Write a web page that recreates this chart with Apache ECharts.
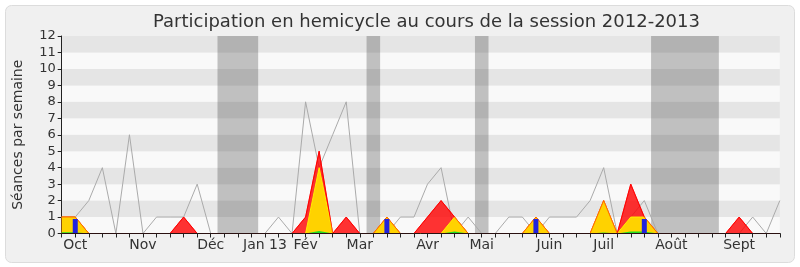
<!DOCTYPE html>
<html>
<head>
<meta charset="utf-8">
<script src="https://cdn.jsdelivr.net/npm/echarts@6/dist/echarts.min.js"></script>
<style>html,body{margin:0;padding:0;background:#fff}#c{width:800px;height:267px}</style>
</head>
<body>
<div id="c"></div>
<script>
// Weeks 0..53 of the 2012-2013 session
const weekCount = 54;
const monthTickIndex = [1, 6, 11, 15, 18, 22, 27, 31, 36, 40, 45, 50];
const monthNames = ['Oct', 'Nov', 'Déc', 'Jan 13', 'Fév', 'Mar', 'Avr', 'Mai', 'Juin', 'Juil', 'Août', 'Sept'];
// parliamentary recess (weeks, inclusive)
const vacationWeeks = [[12, 14], [23, 23], [31, 31], [44, 48]];

const medianValues = [1,1,2,4,0,6,0,1,1,1,3,0,0,0,0,0,1,0,8,4,6,8,0,0,0,1,1,3,4,0,1,0,0,1,1,0,1,1,1,2,4,0,1,2,0,0,0,0,0,0,0,1,0,2];
const presenceValues = [1,1,0,0,0,0,0,0,0,1,0,0,0,0,0,0,0,0,1,5,0,1,0,0,1,0,0,1,2,1,0,0,0,0,0,1,0,0,0,0,2,0,3,1,0,0,0,0,0,0,1,0,0,0];
const participationValues = [1,1,0,0,0,0,0,0,0,0,0,0,0,0,0,0,0,0,0,4,0,0,0,0,1,0,0,0,0,1,0,0,0,0,0,1,0,0,0,0,2,0,1,1,0,0,0,0,0,0,0,0,0,0];
const wordsValues = [0.08,0.08,0,0,0,0,0,0,0,0,0,0,0,0,0,0,0,0,0,0.15,0,0,0,0,0,0,0,0,0,0.12,0,0,0,0,0,0,0,0,0,0,0.06,0,0.12,0.12,0,0,0,0,0,0,0,0,0,0];
const questionWeeks = [1, 24, 35, 43];
const questionValues = [0.88, 0.88, 0.88, 0.88];

const toXY = arr => arr.map((v, i) => [i, v]);
const labelMap = {};
monthTickIndex.forEach((k, i) => { labelMap[k] = monthNames[i]; });

const chart = echarts.init(document.getElementById('c'), null, {renderer: 'canvas'});
const font = 'DejaVu Sans';
const xBase = {
  type: 'value', min: 0, max: weekCount - 1, interval: 1
};
chart.setOption({
  animation: false,
  backgroundColor: '#ffffff',
  textStyle: {fontFamily: font},
  graphic: [{
    type: 'rect', z: -10, silent: true,
    shape: {x: 5.5, y: 5.5, width: 789, height: 257, r: 6},
    style: {fill: '#f0f0f0', stroke: '#dcdcdc', lineWidth: 1}
  }],
  title: {
    text: 'Participation en hemicycle au cours de la session 2012-2013',
    left: 148, top: 8,
    textStyle: {fontFamily: font, fontSize: 18, fontWeight: 'normal', color: '#333'}
  },
  grid: {left: 61.7, right: 20.2, top: 36, bottom: 33.5, containLabel: false},
  xAxis: [
    Object.assign({}, xBase, {
      position: 'bottom', z: 20,
      axisLine: {show: true, onZero: false, lineStyle: {color: '#2a1010', width: 1}},
      axisTick: {show: true, inside: false, length: 4, lineStyle: {color: '#222'}},
      axisLabel: {show: true, fontSize: 14, color: '#333', margin: 5, fontFamily: font,
        formatter: v => labelMap[v] || ''},
      splitLine: {show: false}
    }),
    Object.assign({}, xBase, {
      position: 'top',
      axisLine: {show: false},
      axisTick: {show: true, inside: true, length: 2, lineStyle: {color: '#222'}},
      axisLabel: {show: false},
      splitLine: {show: false}
    })
  ],
  yAxis: {
    type: 'value', min: 0, max: 12, interval: 1,
    name: 'Séances par semaine', nameLocation: 'middle', nameGap: 36,
    nameTextStyle: {fontSize: 14, color: '#333', fontFamily: font},
    axisLine: {show: true, lineStyle: {color: '#222'}},
    axisTick: {show: true, inside: false, length: 4, lineStyle: {color: '#222'}},
    axisLabel: {fontSize: 13, color: '#333', margin: 6, fontFamily: font},
    splitLine: {show: false},
    splitArea: {show: true, areaStyle: {color: ['#f9f9f9', '#e5e5e5']}}
  },
  series: [
    {
      name: 'vacances', type: 'line', data: [], z: 1, silent: true,
      markArea: {
        silent: true,
        itemStyle: {color: 'rgba(60,60,60,0.3)'},
        data: vacationWeeks.map(w => [{xAxis: w[0] - 0.5}, {xAxis: w[1] + 0.5}])
      }
    },
    {
      name: 'médiane', type: 'line', data: toXY(medianValues), z: 2,
      symbol: 'none', lineStyle: {color: '#aaaaaa', width: 1}
    },
    {
      name: 'présences', type: 'line', data: toXY(presenceValues), z: 3,
      symbol: 'none', lineStyle: {color: '#ff0000', width: 1},
      areaStyle: {color: 'rgba(255,0,0,0.8)', opacity: 1}
    },
    {
      name: 'participations', type: 'line', data: toXY(participationValues), z: 4,
      symbol: 'none', lineStyle: {color: '#ffee00', width: 1},
      areaStyle: {color: '#ffd200', opacity: 1}
    },
    {
      name: 'présences-trait', type: 'line', data: toXY(presenceValues), z: 5,
      symbol: 'none', lineStyle: {color: 'rgba(255,0,0,0.55)', width: 1}
    },
    {
      name: 'mots', type: 'line', data: toXY(wordsValues), z: 6,
      symbol: 'none', lineStyle: {width: 0, opacity: 0},
      areaStyle: {color: '#22dd22', opacity: 1}
    },
    {
      name: 'questions', type: 'bar', data: questionWeeks.map((w, i) => [w, questionValues[i]]), z: 7,
      barWidth: 5, itemStyle: {color: '#2222dd'}
    }
  ]
});
</script>
</body>
</html>
